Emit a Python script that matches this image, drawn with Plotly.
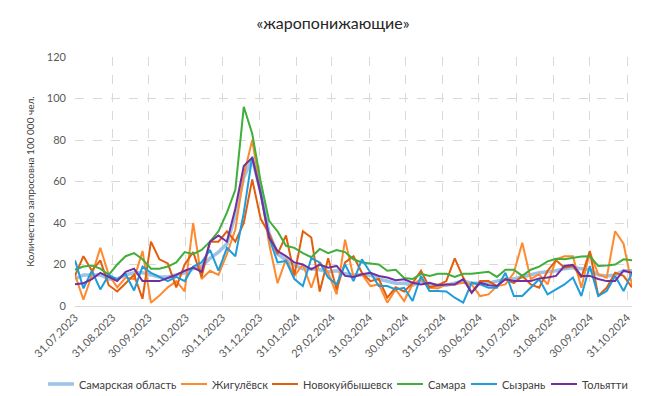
import pandas as pd
import plotly.graph_objects as go

# weekly dates
start_date = "2023-07-31"
n_weeks = 67
dates = pd.date_range(start_date, periods=n_weeks, freq="7D")

# month-end tick labels
tick_dates = pd.date_range("2023-07-31", "2024-10-31", freq="ME")
tick_labels = [d.strftime("%d.%m.%Y") for d in tick_dates]

samarskaya = [13,15,15,15,13,13,15,16,16,15, 14,14,15,16,18,19,23,26,30,44,
              62,71,55,35,25,22,19.5,18,18,17.5, 16.5,17,15.5,15,15,15,13,12,11,11,
              10,12,10,10,10,11,12,11,11,11, 12,13,13,14,15,16,16.5,17,18,18.5,
              18,17.5,15,14.5,15,17,17]
zhigulevsk = [15,3,15,28,15,9,13.7,13,26.5,1.6, 5,9,12,7,40,13,17,15,25,37,
              63,80,55,30,11,22.5,14.5,20,8.8,21, 16,5.6,32,14,15.3,9.6,10.4,1.6,8,2.4,
              10.4,12.9,8.8,8.5,10.4,10.4,11.2,10.4,4.8,5.6, 9.6,10.4,16,30.5,12.9,15.3,10.4,22.5,24,24,
              8.8,26,15.3,13.7,36,30,10]
novokuib = [14.5,24,17,22,10,7,11,15,3.5,31, 22.5,20.5,9,20,26,14,31,31,36,31,
            40,61,42,35,25,34,15,36,33,7, 23,8,21,24,16,12,13,4,9,7,
            11,17,9,10,12,23,13.7,6.4,12,12, 9.6,13,11,14.5,10.4,8.8,17,22,18.5,19.3,
            13.7,26.5,4.8,8.8,16,14.5,9]
samara = [17.5,19,19.5,18,15,20,24,25.5,22.5,18, 18,19,21,26,25,27,31,36,45,56,
          96,83,60,41,36,29,28,25.5,23.5,27.5, 25.5,27,26,22.5,21,20.5,20,17,17.5,13.5,
          13,15.5,14.5,15.5,15.5,14,15.5,15.5,16,16.5, 14,17.5,17.5,14.5,17.5,19,21.5,22.8,22.5,23.3,
          23.8,24,19.3,19.5,20,22.5,22]
syzran = [22,8.5,17,8,15,12.8,15.3,7.5,19,16, 14,12,14,12,19,21,27,17,28,24,
          45,72,55,33,21,21.7,13,9.6,23,21, 13.7,10.4,20,12,22.5,16,9.6,9.6,8,8.8,
          2.4,14.5,7.2,7.2,7,4,1.6,11.2,10.4,8.8, 8.8,16,4.8,4.8,8.8,12.9,5.6,8,10.4,13.7,
          4.8,19.3,4.8,7.2,14.5,7.2,16]
togliatti = [10.5,11,13,16,14,12,16.5,18,12,12, 12,13.5,15,17,18.5,16.5,31,34,31,47,
             67.5,71.5,54,33,26.5,24,21,20,17.7,20, 18.5,19.3,14.5,14,15.3,16,14.5,13.7,12.4,12.9,
             11.2,10.4,11.2,10,10.4,10.4,12.9,6.4,11.2,10, 9.6,12.9,12,12,12,13.3,13.7,14.5,19.3,19.8,
             14.5,14.5,13,12,12,17,16]

series_names = ["Самарская область", "Жигулёвск", "Новокуйбышевск", "Самара", "Сызрань", "Тольятти"]
series_values = [samarskaya, zhigulevsk, novokuib, samara, syzran, togliatti]
colors = ["#9DC3E6", "#FF8A2E", "#E35E0C", "#3FAE3A", "#1F9DDB", "#7030A0"]
widths = [3.5, 2, 2, 2, 2, 2]
legend_x = [40, 173, 264, 389, 463, 543]   # left pixel of each legend sample line

W, H = 650, 396
ML, MR, MT, MB = 67, 26, 49, 98
PW, PH = W - ML - MR, H - MT - MB
FONT = "Lato, 'DejaVu Sans', sans-serif"

def px_to_paper(px, py):
    return (px - ML) / PW, (H - MB - py) / PH

fig = go.Figure()
for name, vals, color, w in zip(series_names, series_values, colors, widths):
    fig.add_trace(go.Scatter(x=dates, y=vals, mode="lines", name=name,
                             line=dict(color=color, width=w), showlegend=False))

# custom one-row legend (as in the reference)
legend_y = 376
for name, color, w, lx in zip(series_names, colors, widths, legend_x):
    x0, y0 = px_to_paper(lx, legend_y)
    x1, _ = px_to_paper(lx + 26, legend_y)
    fig.add_shape(type="line", xref="paper", yref="paper", x0=x0, x1=x1, y0=y0, y1=y0,
                  line=dict(color=color, width=w))
    tx, _ = px_to_paper(lx + 29, legend_y)
    fig.add_annotation(xref="paper", yref="paper", x=tx, y=y0, text=name, showarrow=False,
                       xanchor="left", yanchor="middle",
                       font=dict(family=FONT, size=11, color="#404040"))

fig.update_layout(
    width=W, height=H,
    margin=dict(l=ML, r=MR, t=MT, b=MB, autoexpand=False),
    paper_bgcolor="white", plot_bgcolor="white",
    font=dict(family=FONT, size=11, color="#595959"),
    title=dict(text="«жаропонижающие»", x=0.5, xanchor="center", y=0.975, yanchor="top",
               font=dict(family=FONT, size=16, color="#262626")),
    showlegend=False,
)
fig.update_xaxes(
    range=[dates[0], dates[-1]], automargin=False,
    tickvals=tick_dates, ticktext=tick_labels, tickangle=-45,
    showgrid=True, gridcolor="#D9D9D9", griddash="dash", gridwidth=1,
    showline=True, linecolor="#D9D9D9", linewidth=1,
    ticks="", zeroline=False,
    tickfont=dict(family=FONT, size=11, color="#595959"),
)
fig.update_yaxes(
    range=[0, 120], dtick=20, automargin=False,
    showgrid=True, gridcolor="#D9D9D9", griddash="dash", gridwidth=1,
    zeroline=False, showline=False, ticks="", ticklabelstandoff=8,
    title=dict(text="Количество запросовна 100 000 чел.", standoff=10,
               font=dict(family=FONT, size=10, color="#404040")),
    tickfont=dict(family=FONT, size=11, color="#595959"),
)

fig.write_html("out.html")
